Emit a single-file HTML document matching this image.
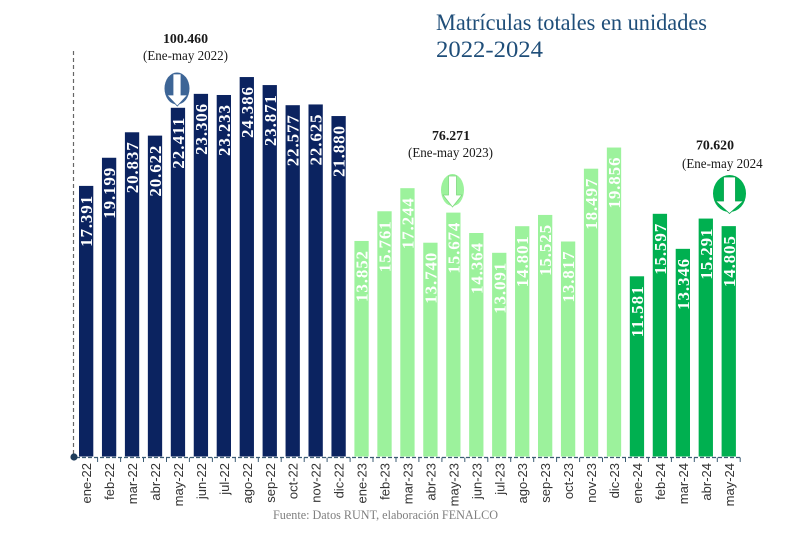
<!DOCTYPE html>
<html><head><meta charset="utf-8"><style>
html,body{margin:0;padding:0;background:#fff;}
svg{display:block;}
.v{font-family:"Liberation Serif",serif;font-weight:bold;font-size:17px;fill:#fff;}
.x{font-family:"Liberation Sans",sans-serif;font-size:13px;fill:#333;}
.a{font-family:"Liberation Serif",serif;fill:#1a1a1a;}
</style></head><body>
<svg width="800" height="533" viewBox="0 0 800 533" xmlns="http://www.w3.org/2000/svg">
<rect width="800" height="533" fill="#fff"/>
<defs><clipPath id="c3"><rect x="600" y="140" width="163" height="40"/></clipPath></defs>

<!-- title -->
<text x="436" y="30" font-family="Liberation Serif, serif" font-size="23" fill="#1f4e79" textLength="271" lengthAdjust="spacingAndGlyphs">Matrículas totales en unidades</text>
<text x="436" y="57" font-family="Liberation Serif, serif" font-size="23" fill="#1f4e79" textLength="107" lengthAdjust="spacingAndGlyphs">2022-2024</text>

<!-- axes -->
<line x1="73.5" y1="51" x2="73.5" y2="457" stroke="#666" stroke-width="1.2" stroke-dasharray="4 3"/>
<line x1="76" y1="457.5" x2="740" y2="457.5" stroke="#3b5b73" stroke-width="1.2" stroke-dasharray="4 2"/>
<g stroke="#3b5b73" stroke-width="1">
<line x1="97.6" y1="457.5" x2="97.6" y2="462"/><line x1="120.6" y1="457.5" x2="120.6" y2="462"/><line x1="143.5" y1="457.5" x2="143.5" y2="462"/><line x1="166.5" y1="457.5" x2="166.5" y2="462"/><line x1="189.4" y1="457.5" x2="189.4" y2="462"/><line x1="212.4" y1="457.5" x2="212.4" y2="462"/><line x1="235.3" y1="457.5" x2="235.3" y2="462"/><line x1="258.3" y1="457.5" x2="258.3" y2="462"/><line x1="281.2" y1="457.5" x2="281.2" y2="462"/><line x1="304.2" y1="457.5" x2="304.2" y2="462"/><line x1="327.1" y1="457.5" x2="327.1" y2="462"/><line x1="350.1" y1="457.5" x2="350.1" y2="462"/><line x1="373.0" y1="457.5" x2="373.0" y2="462"/><line x1="396.0" y1="457.5" x2="396.0" y2="462"/><line x1="418.9" y1="457.5" x2="418.9" y2="462"/><line x1="441.9" y1="457.5" x2="441.9" y2="462"/><line x1="464.8" y1="457.5" x2="464.8" y2="462"/><line x1="487.8" y1="457.5" x2="487.8" y2="462"/><line x1="510.7" y1="457.5" x2="510.7" y2="462"/><line x1="533.7" y1="457.5" x2="533.7" y2="462"/><line x1="556.6" y1="457.5" x2="556.6" y2="462"/><line x1="579.6" y1="457.5" x2="579.6" y2="462"/><line x1="602.5" y1="457.5" x2="602.5" y2="462"/><line x1="625.5" y1="457.5" x2="625.5" y2="462"/><line x1="648.4" y1="457.5" x2="648.4" y2="462"/><line x1="671.4" y1="457.5" x2="671.4" y2="462"/><line x1="694.3" y1="457.5" x2="694.3" y2="462"/><line x1="717.3" y1="457.5" x2="717.3" y2="462"/><line x1="740.2" y1="457.5" x2="740.2" y2="462"/>
</g>
<circle cx="74" cy="457" r="3.6" fill="#1f3d5c"/>

<!-- bars 2022 -->
<g fill="#0b2360">
<rect x="79.00" y="185.90" width="14.3" height="270.60"/>
<rect x="101.95" y="157.76" width="14.3" height="298.74"/>
<rect x="124.90" y="132.28" width="14.3" height="324.22"/>
<rect x="147.85" y="135.62" width="14.3" height="320.88"/>
<rect x="170.80" y="107.79" width="14.3" height="348.71"/>
<rect x="193.75" y="93.86" width="14.3" height="362.64"/>
<rect x="216.70" y="94.99" width="14.3" height="361.51"/>
<rect x="239.65" y="77.05" width="14.3" height="379.45"/>
<rect x="262.60" y="85.07" width="14.3" height="371.43"/>
<rect x="285.55" y="105.20" width="14.3" height="351.30"/>
<rect x="308.50" y="104.45" width="14.3" height="352.05"/>
<rect x="331.45" y="116.05" width="14.3" height="340.45"/>
</g>
<!-- bars 2023 -->
<g fill="#9cf29c">
<rect x="354.40" y="240.96" width="14.3" height="215.54"/>
<rect x="377.35" y="211.26" width="14.3" height="245.24"/>
<rect x="400.30" y="188.18" width="14.3" height="268.32"/>
<rect x="423.25" y="242.71" width="14.3" height="213.79"/>
<rect x="446.20" y="212.61" width="14.3" height="243.89"/>
<rect x="469.15" y="233.00" width="14.3" height="223.50"/>
<rect x="492.10" y="252.80" width="14.3" height="203.70"/>
<rect x="515.05" y="226.20" width="14.3" height="230.30"/>
<rect x="538.00" y="214.93" width="14.3" height="241.57"/>
<rect x="560.95" y="241.51" width="14.3" height="214.99"/>
<rect x="583.90" y="168.69" width="14.3" height="287.81"/>
<rect x="606.85" y="147.54" width="14.3" height="308.96"/>
</g>
<!-- bars 2024 -->
<g fill="#00b050">
<rect x="629.80" y="276.30" width="14.3" height="180.20"/>
<rect x="652.75" y="213.81" width="14.3" height="242.69"/>
<rect x="675.70" y="248.84" width="14.3" height="207.66"/>
<rect x="698.65" y="218.57" width="14.3" height="237.93"/>
<rect x="721.60" y="226.13" width="14.3" height="230.37"/>
</g>

<!-- value labels -->
<g class="v" text-anchor="end">
<text transform="translate(92.15,195.90) rotate(-90)" textLength="51" lengthAdjust="spacing">17.391</text>
<text transform="translate(115.10,167.76) rotate(-90)" textLength="51" lengthAdjust="spacing">19.199</text>
<text transform="translate(138.05,142.28) rotate(-90)" textLength="51" lengthAdjust="spacing">20.837</text>
<text transform="translate(161.00,145.62) rotate(-90)" textLength="51" lengthAdjust="spacing">20.622</text>
<text transform="translate(183.95,117.79) rotate(-90)" textLength="51" lengthAdjust="spacing">22.411</text>
<text transform="translate(206.90,103.86) rotate(-90)" textLength="51" lengthAdjust="spacing">23.306</text>
<text transform="translate(229.85,104.99) rotate(-90)" textLength="51" lengthAdjust="spacing">23.233</text>
<text transform="translate(252.80,87.05) rotate(-90)" textLength="51" lengthAdjust="spacing">24.386</text>
<text transform="translate(275.75,95.07) rotate(-90)" textLength="51" lengthAdjust="spacing">23.871</text>
<text transform="translate(298.70,115.20) rotate(-90)" textLength="51" lengthAdjust="spacing">22.577</text>
<text transform="translate(321.65,114.45) rotate(-90)" textLength="51" lengthAdjust="spacing">22.625</text>
<text transform="translate(344.60,126.05) rotate(-90)" textLength="51" lengthAdjust="spacing">21.880</text>
<text transform="translate(367.55,250.96) rotate(-90)" textLength="51" lengthAdjust="spacing">13.852</text>
<text transform="translate(390.50,221.26) rotate(-90)" textLength="51" lengthAdjust="spacing">15.761</text>
<text transform="translate(413.45,198.18) rotate(-90)" textLength="51" lengthAdjust="spacing">17.244</text>
<text transform="translate(436.40,252.71) rotate(-90)" textLength="51" lengthAdjust="spacing">13.740</text>
<text transform="translate(459.35,222.61) rotate(-90)" textLength="51" lengthAdjust="spacing">15.674</text>
<text transform="translate(482.30,243.00) rotate(-90)" textLength="51" lengthAdjust="spacing">14.364</text>
<text transform="translate(505.25,262.80) rotate(-90)" textLength="51" lengthAdjust="spacing">13.091</text>
<text transform="translate(528.20,236.20) rotate(-90)" textLength="51" lengthAdjust="spacing">14.801</text>
<text transform="translate(551.15,224.93) rotate(-90)" textLength="51" lengthAdjust="spacing">15.525</text>
<text transform="translate(574.10,251.51) rotate(-90)" textLength="51" lengthAdjust="spacing">13.817</text>
<text transform="translate(597.05,178.69) rotate(-90)" textLength="51" lengthAdjust="spacing">18.497</text>
<text transform="translate(620.00,157.54) rotate(-90)" textLength="51" lengthAdjust="spacing">19.856</text>
<text transform="translate(642.95,286.30) rotate(-90)" textLength="51" lengthAdjust="spacing">11.581</text>
<text transform="translate(665.90,223.81) rotate(-90)" textLength="51" lengthAdjust="spacing">15.597</text>
<text transform="translate(688.85,258.84) rotate(-90)" textLength="51" lengthAdjust="spacing">13.346</text>
<text transform="translate(711.80,228.57) rotate(-90)" textLength="51" lengthAdjust="spacing">15.291</text>
<text transform="translate(734.75,236.13) rotate(-90)" textLength="51" lengthAdjust="spacing">14.805</text>
</g>

<!-- x labels -->
<g class="x" text-anchor="end">
<text transform="translate(91.15,463) rotate(-90)">ene-22</text>
<text transform="translate(114.10,463) rotate(-90)">feb-22</text>
<text transform="translate(137.05,463) rotate(-90)">mar-22</text>
<text transform="translate(160.00,463) rotate(-90)">abr-22</text>
<text transform="translate(182.95,463) rotate(-90)">may-22</text>
<text transform="translate(205.90,463) rotate(-90)">jun-22</text>
<text transform="translate(228.85,463) rotate(-90)">jul-22</text>
<text transform="translate(251.80,463) rotate(-90)">ago-22</text>
<text transform="translate(274.75,463) rotate(-90)">sep-22</text>
<text transform="translate(297.70,463) rotate(-90)">oct-22</text>
<text transform="translate(320.65,463) rotate(-90)">nov-22</text>
<text transform="translate(343.60,463) rotate(-90)">dic-22</text>
<text transform="translate(366.55,463) rotate(-90)">ene-23</text>
<text transform="translate(389.50,463) rotate(-90)">feb-23</text>
<text transform="translate(412.45,463) rotate(-90)">mar-23</text>
<text transform="translate(435.40,463) rotate(-90)">abr-23</text>
<text transform="translate(458.35,463) rotate(-90)">may-23</text>
<text transform="translate(481.30,463) rotate(-90)">jun-23</text>
<text transform="translate(504.25,463) rotate(-90)">jul-23</text>
<text transform="translate(527.20,463) rotate(-90)">ago-23</text>
<text transform="translate(550.15,463) rotate(-90)">sep-23</text>
<text transform="translate(573.10,463) rotate(-90)">oct-23</text>
<text transform="translate(596.05,463) rotate(-90)">nov-23</text>
<text transform="translate(619.00,463) rotate(-90)">dic-23</text>
<text transform="translate(641.95,463) rotate(-90)">ene-24</text>
<text transform="translate(664.90,463) rotate(-90)">feb-24</text>
<text transform="translate(687.85,463) rotate(-90)">mar-24</text>
<text transform="translate(710.80,463) rotate(-90)">abr-24</text>
<text transform="translate(733.75,463) rotate(-90)">may-24</text>
</g>

<!-- annotations -->
<text class="a" x="163" y="43" font-size="14" font-weight="bold" textLength="45" lengthAdjust="spacingAndGlyphs">100.460</text>
<text class="a" x="143" y="60" font-size="13.5" textLength="85" lengthAdjust="spacingAndGlyphs">(Ene-may 2022)</text>
<text class="a" x="432" y="140" font-size="14" font-weight="bold" textLength="38" lengthAdjust="spacingAndGlyphs">76.271</text>
<text class="a" x="408" y="157" font-size="13.5" textLength="85" lengthAdjust="spacingAndGlyphs">(Ene-may 2023)</text>
<text class="a" x="696" y="149.5" font-size="14" font-weight="bold" textLength="38" lengthAdjust="spacingAndGlyphs">70.620</text>
<g clip-path="url(#c3)"><text class="a" x="682" y="168" font-size="13.5" textLength="85" lengthAdjust="spacingAndGlyphs">(Ene-may 2024)</text></g>

<!-- arrow ovals -->
<ellipse cx="177" cy="88.5" rx="12.5" ry="16" fill="#3d6596"/>
<polygon points="173,74 181,74 181,95 187.5,95 177.3,106 167,95 173,95" fill="#fff" stroke="#3d6596" stroke-width="0.8"/>
<ellipse cx="452.5" cy="190" rx="11.5" ry="16" fill="#9cf29c"/>
<polygon points="448.5,176 456.5,176 456.5,195 462,195 452.5,207 443,195 448.5,195" fill="#fff" stroke="#7fd87f" stroke-width="0.8"/>
<ellipse cx="729.5" cy="193.5" rx="16.5" ry="18.5" fill="#00b050"/>
<polygon points="723.5,177 735.5,177 735.5,201 743.5,201 729.5,213.5 715.5,201 723.5,201" fill="#fff" stroke="#00a048" stroke-width="0.8"/>

<!-- footer -->
<text x="273" y="519" font-family="Liberation Serif, serif" font-size="13" fill="#7f7f7f" textLength="225" lengthAdjust="spacingAndGlyphs">Fuente: Datos RUNT, elaboración FENALCO</text>
</svg>
</body></html>
